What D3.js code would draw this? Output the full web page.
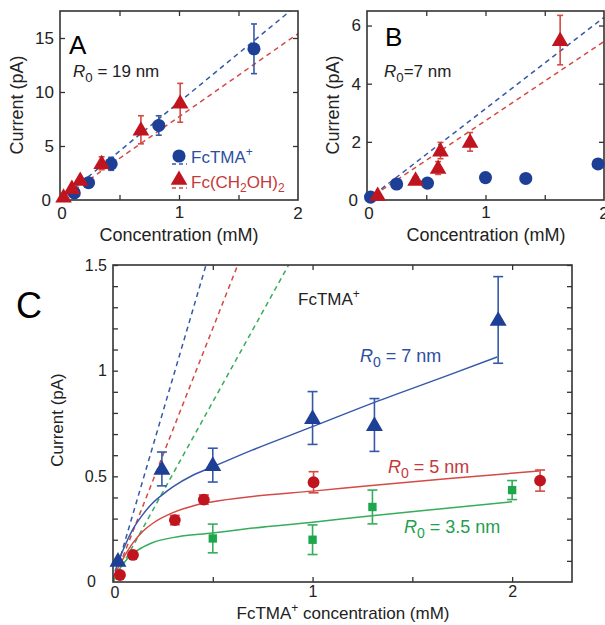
<html>
<head>
<meta charset="utf-8">
<style>
  body { margin: 0; background: #fff; }
  svg text { font-family: "Liberation Sans", Arial, Helvetica, sans-serif; }
</style>
<script src="https://cdnjs.cloudflare.com/ajax/libs/d3/7.8.5/d3.min.js"></script>
</head>
<body>
<svg id="fig" width="605" height="625"></svg>
<script>
// ---- data ----
// panel A, R0 = 19 nm
let aTMA = [[0.12, 0.65, 0], [0.24, 1.6, 0], [0.43, 3.35, 0.6], [0.83, 6.9, 0.9], [1.63, 14.0, 2.3]];
let aOH = [[0.03, 0.3, 0], [0.1, 1.1, 0], [0.17, 1.85, 0], [0.35, 3.4, 0.6], [0.68, 6.5, 1.3], [1.01, 9.0, 1.8]];
let aFitTMA = [[0, 0], [2, 18.1]];
let aFitOH = [[0, 0], [2, 15.4]];

// panel B, R0 = 7 nm
let bTMA = [[0.03, 0.1], [0.25, 0.55], [0.51, 0.58], [1.0, 0.77], [1.34, 0.74], [1.95, 1.24]];
let bOH = [[0.09, 0.17, 0], [0.41, 0.69, 0.1], [0.6, 1.1, 0.22], [0.62, 1.7, 0.28], [0.87, 2.0, 0.32], [1.63, 5.5, 0.85]];
let bFitTMA = [[0, 0], [2, 6.28]];
let bFitOH = [[0, 0], [2, 5.45]];

// panel C, FcTMA+ at three radii
let c7 = [[0.025, 0.1, 0], [0.245, 0.535, 0.08], [0.5, 0.553, 0.08], [1.0, 0.776, 0.125], [1.31, 0.743, 0.125], [1.93, 1.24, 0.205]];
let c5 = [[0.035, 0.033, 0], [0.1, 0.128, 0], [0.31, 0.293, 0.022], [0.455, 0.39, 0.022], [1.005, 0.472, 0.05], [2.14, 0.48, 0.05]];
let c35 = [[0.5, 0.206, 0.068], [1.0, 0.2, 0.07], [1.3, 0.355, 0.08], [2.0, 0.435, 0.045]];
let fit7 = [[0.01, 0.05], [0.05, 0.15], [0.1, 0.25], [0.15, 0.32], [0.2, 0.375], [0.25, 0.415], [0.3, 0.45], [0.4, 0.505], [0.5, 0.545], [0.7, 0.625], [1.0, 0.735], [1.31, 0.85], [1.685, 0.98], [1.925, 1.065]];
let fit5 = [[0.0, 0.02], [0.05, 0.11], [0.1, 0.185], [0.15, 0.24], [0.2, 0.278], [0.3, 0.328], [0.4, 0.36], [0.5, 0.38], [0.7, 0.405], [1.0, 0.43], [1.31, 0.458], [1.685, 0.49], [2.135, 0.525]];
let fit35 = [[0.01, 0.024], [0.05, 0.085], [0.1, 0.135], [0.15, 0.165], [0.2, 0.187], [0.3, 0.21], [0.5, 0.232], [0.7, 0.255], [1.0, 0.283], [1.31, 0.315], [1.685, 0.35], [2.0, 0.38]];
let dash7 = [[0, 0], [0.466, 1.5]];
let dash5 = [[0, 0], [0.625, 1.5]];
let dash35 = [[0, 0], [0.88, 1.5]];

let blue = "#1d3f95", blueLine = "#3559a8";
let red = "#c0141f", redLine = "#d44a44";
let green = "#1ea64c", greenLine = "#35ad5a";
let axisCol = "#333";

let svg = d3.select("#fig");
let defs = svg.append("defs");

function makePanel(id, box, xDom, yDom, xTicks, xLabels, yTicks, yLabels, fs, pad) {
	let x = d3.scaleLinear().domain(xDom).range([box.l, box.r]);
	let y = d3.scaleLinear().domain(yDom).range([box.b, box.t]);
	defs.append("clipPath").attr("id", "clip" + id)
		.append("rect").attr("x", box.l).attr("y", box.t)
		.attr("width", box.r - box.l).attr("height", box.b - box.t);
	let g = svg.append("g");
	let plot = g.append("g").attr("clip-path", "url(#clip" + id + ")");
	let has = (arr, d) => arr.some(v => Math.abs(v - d) < 1e-9);
	let fmt = d => (has(xLabels, d) ? d3.format("~g")(d) : "");
	let fmtY = d => (has(yLabels, d) ? d3.format("~g")(d) : "");

	let styleAxis = sel => {
		sel.select(".domain").remove();
		sel.selectAll("line").attr("stroke", axisCol).attr("stroke-width", 1.3);
		sel.selectAll("text").attr("font-size", fs).attr("fill", "#222");
	};
	g.append("g").attr("transform", `translate(0,${box.b})`)
		.call(d3.axisBottom(x).tickValues(xTicks).tickFormat(fmt).tickSizeInner(-5).tickSizeOuter(0).tickPadding(pad))
		.call(styleAxis);
	g.append("g").attr("transform", `translate(0,${box.t})`)
		.call(d3.axisTop(x).tickValues(xTicks).tickFormat("").tickSizeInner(-5).tickSizeOuter(0))
		.call(styleAxis);
	g.append("g").attr("transform", `translate(${box.l},0)`)
		.call(d3.axisLeft(y).tickValues(yTicks).tickFormat(fmtY).tickSizeInner(-5).tickSizeOuter(0).tickPadding(6))
		.call(styleAxis);
	g.append("g").attr("transform", `translate(${box.r},0)`)
		.call(d3.axisRight(y).tickValues(yTicks).tickFormat("").tickSizeInner(-5).tickSizeOuter(0))
		.call(styleAxis);
	g.append("rect").attr("x", box.l).attr("y", box.t)
		.attr("width", box.r - box.l).attr("height", box.b - box.t)
		.attr("fill", "none").attr("stroke", axisCol).attr("stroke-width", 1.6);
	return { x, y, g, plot };
}

let line = (p, data, col, dash, w) => p.plot.append("path")
	.attr("d", d3.line().x(d => p.x(d[0])).y(d => p.y(d[1])).curve(d3.curveMonotoneX)(data))
	.attr("fill", "none").attr("stroke", col).attr("stroke-width", w || 1.5)
	.attr("stroke-dasharray", dash ? "5,4" : null);

function errBars(p, data, col, cap) {
	data.filter(d => d[2] > 0).forEach(d => {
		let cx = p.x(d[0]), y1 = p.y(d[1] - d[2]), y2 = p.y(d[1] + d[2]);
		let gg = p.g.append("g").attr("stroke", col).attr("stroke-width", 1.6);
		gg.append("line").attr("x1", cx).attr("x2", cx).attr("y1", y1).attr("y2", y2);
		gg.append("line").attr("x1", cx - cap).attr("x2", cx + cap).attr("y1", y1).attr("y2", y1);
		gg.append("line").attr("x1", cx - cap).attr("x2", cx + cap).attr("y1", y2).attr("y2", y2);
	});
}

function markers(p, data, col, type, size) {
	let sym = { c: d3.symbolCircle, t: d3.symbolTriangle, s: d3.symbolSquare }[type];
	p.g.selectAll(null).data(data).join("path")
		.attr("transform", d => `translate(${p.x(d[0])},${p.y(d[1]) + (type == "t" ? 1 : 0)})`)
		.attr("d", d3.symbol().type(sym).size(size))
		.attr("fill", col);
}

function rLabel(g, xx, yy, tail, col, fs) {
	let t = g.append("text").attr("x", xx).attr("y", yy).attr("font-size", fs).attr("fill", col);
	t.append("tspan").attr("font-style", "italic").text("R");
	t.append("tspan").attr("font-size", fs * 0.78).attr("dy", 5).text("0");
	t.append("tspan").attr("dy", -5).text(tail);
}

// ---- panel A ----
let pA = makePanel("A", { l: 60, r: 298, t: 11, b: 200 }, [0, 2], [0, 17.5],
	[0.5, 1, 1.5], [1], [5, 10, 15], [5, 10, 15], 17, 6);
line(pA, aFitTMA, blueLine, true);
line(pA, aFitOH, redLine, true);
errBars(pA, aTMA, blueLine, 3);
errBars(pA, aOH, redLine, 3);
markers(pA, aTMA, blue, "c", 135);
markers(pA, aOH, red, "t", 120);
pA.g.append("text").attr("x", 69).attr("y", 54).attr("font-size", 26).text("A");
rLabel(pA.g, 73, 77, " = 19 nm", "#222", 17);
// legend
[[156, blue, "c"], [180, red, "t"]].forEach((L, i) => {
	pA.g.append("path").attr("transform", `translate(179,${L[0]})`)
		.attr("d", d3.symbol().type(L[2] == "c" ? d3.symbolCircle : d3.symbolTriangle).size(L[2] == "c" ? 135 : 120))
		.attr("fill", L[1]);
	pA.g.append("line").attr("x1", 172).attr("x2", 187).attr("y1", L[0] + 8).attr("y2", L[0] + 8)
		.attr("stroke", i ? redLine : blueLine).attr("stroke-width", 1.3).attr("stroke-dasharray", "4,3");
});
let lt1 = pA.g.append("text").attr("x", 191).attr("y", 163).attr("font-size", 17).attr("fill", "#2c4fa0");
lt1.append("tspan").text("FcTMA");
lt1.append("tspan").attr("font-size", 12).attr("dy", -7).text("+");
let lt2 = pA.g.append("text").attr("x", 191).attr("y", 188).attr("font-size", 17).attr("fill", "#c43a3a");
lt2.append("tspan").text("Fc(CH");
lt2.append("tspan").attr("font-size", 12).attr("dy", 4).text("2");
lt2.append("tspan").attr("dy", -4).text("OH)");
lt2.append("tspan").attr("font-size", 12).attr("dy", 4).text("2");

// ---- panel B ----
let pB = makePanel("B", { l: 367, r: 604, t: 11, b: 200 }, [0, 2], [0, 6.5],
	[0.5, 1, 1.5], [1], [2, 4, 6], [2, 4, 6], 17, 6);
line(pB, bFitTMA, blueLine, true);
line(pB, bFitOH, redLine, true);
errBars(pB, bOH, redLine, 3);
markers(pB, bTMA, blue, "c", 135);
markers(pB, bOH, red, "t", 120);
pB.g.append("text").attr("x", 385).attr("y", 46).attr("font-size", 26).text("B");
rLabel(pB.g, 384, 77, "=7 nm", "#222", 17);

// axis labels + zeros for A and B
[[pA, 179, 17], [pB, 486, 333]].forEach(P => {
	P[0].g.append("text").attr("x", P[1]).attr("y", 241).attr("text-anchor", "middle").attr("font-size", 18).attr("fill", "#222").text("Concentration (mM)");
	P[0].g.append("text").attr("transform", `translate(${P[2] + 6},105) rotate(-90)`).attr("text-anchor", "middle").attr("font-size", 18).attr("fill", "#222").text("Current (pA)");
	let x0 = P[0].x(0);
	P[0].g.append("text").attr("x", x0 - 9).attr("y", 206).attr("text-anchor", "end").attr("font-size", 17).attr("fill", "#222").text("0");
	P[0].g.append("text").attr("x", x0 + 2).attr("y", 219).attr("text-anchor", "middle").attr("font-size", 17).attr("fill", "#222").text("0");
	P[0].g.append("text").attr("x", P[0].x(2)).attr("y", 219).attr("text-anchor", "middle").attr("font-size", 17).attr("fill", "#222").text("2");
});

// ---- panel C ----
let cY = d3.range(1, 16).map(i => i / 10);
let pC = makePanel("C", { l: 113, r: 572, t: 265, b: 582 }, [0, 2.3], [0, 1.5],
	[0.5, 1, 1.5, 2], [1, 2], cY, [0.5, 1, 1.5], 16, 4);
line(pC, dash7, blueLine, true);
line(pC, dash5, redLine, true);
line(pC, dash35, greenLine, true);
line(pC, fit7, blueLine, false);
line(pC, fit5, redLine, false);
line(pC, fit35, greenLine, false);
errBars(pC, c7, blueLine, 5);
errBars(pC, c5, redLine, 5);
errBars(pC, c35, greenLine, 5);
markers(pC, c7, blue, "t", 125);
markers(pC, c5, red, "c", 110);
markers(pC, c35, green, "s", 70);
pC.g.append("text").attr("x", 96).attr("y", 587).attr("text-anchor", "end").attr("font-size", 16).attr("fill", "#222").text("0");
pC.g.append("text").attr("x", 115).attr("y", 598).attr("text-anchor", "middle").attr("font-size", 16).attr("fill", "#222").text("0");
pC.g.append("text").attr("x", 16).attr("y", 318).attr("font-size", 36).text("C");
pC.g.append("text").attr("transform", "translate(63,420) rotate(-90)").attr("text-anchor", "middle").attr("font-size", 17).attr("fill", "#222").text("Current (pA)");
let xl = pC.g.append("text").attr("x", 343).attr("y", 619).attr("text-anchor", "middle").attr("font-size", 17).attr("fill", "#222");
xl.append("tspan").text("FcTMA");
xl.append("tspan").attr("font-size", 12).attr("dy", -7).text("+");
xl.append("tspan").attr("dy", 7).text(" concentration (mM)");
let ft = pC.g.append("text").attr("x", 298).attr("y", 305).attr("font-size", 17).attr("fill", "#222");
ft.append("tspan").text("FcTMA");
ft.append("tspan").attr("font-size", 12).attr("dy", -7).text("+");
rLabel(pC.g, 360, 362, " = 7 nm", "#2c4fa0", 18);
rLabel(pC.g, 388, 473, " = 5 nm", "#c43a3a", 18);
rLabel(pC.g, 404, 533, " = 3.5 nm", "#22a04c", 18);
</script>
</body>
</html>
